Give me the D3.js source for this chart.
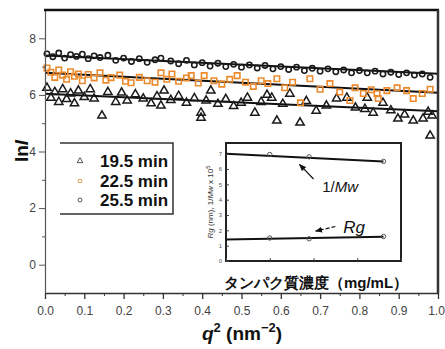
<!DOCTYPE html>
<html>
<head>
<meta charset="utf-8">
<script src="https://cdn.jsdelivr.net/npm/d3@7"></script>
<style>
  body { margin: 0; background: #fff; }
  text { font-family: "Liberation Sans", Arial, sans-serif; }
</style>
</head>
<body>
<div id="chart"></div>
<script>
// ---- data ----
const seriesNames = ['19.5 min', '22.5 min', '25.5 min'];

// 19.5 min (triangles)
const q19 = [0.005, 0.015, 0.025, 0.035, 0.045, 0.055, 0.065, 0.075, 0.085, 0.10, 0.115, 0.125, 0.145, 0.16, 0.18, 0.195, 0.209, 0.23, 0.25, 0.27, 0.285, 0.295, 0.303, 0.32, 0.34, 0.36, 0.38, 0.397, 0.397, 0.41, 0.422, 0.44, 0.46, 0.48, 0.499, 0.515, 0.534, 0.55, 0.565, 0.577, 0.59, 0.605, 0.623, 0.649, 0.665, 0.69, 0.716, 0.742, 0.768, 0.79, 0.814, 0.82, 0.835, 0.86, 0.88, 0.898, 0.915, 0.937, 0.962, 0.975, 0.98, 0.985];
const ln19 = [6.25, 5.90, 6.10, 5.75, 6.20, 5.85, 6.05, 5.70, 6.15, 5.92, 6.20, 5.87, 5.27, 6.10, 5.75, 6.08, 5.80, 6.02, 5.87, 5.70, 5.95, 5.62, 6.15, 5.82, 5.96, 5.72, 5.88, 5.37, 5.19, 5.80, 6.15, 5.68, 5.85, 5.60, 5.72, 5.90, 5.37, 5.75, 6.00, 5.90, 5.09, 5.68, 6.04, 5.02, 5.78, 5.44, 5.62, 5.87, 5.90, 5.55, 5.50, 5.90, 5.37, 5.72, 5.45, 5.16, 5.30, 5.09, 5.16, 5.40, 4.56, 5.27];

// 22.5 min (orange squares)
const q22 = [0.005, 0.015, 0.025, 0.035, 0.045, 0.055, 0.065, 0.075, 0.085, 0.095, 0.11, 0.125, 0.14, 0.155, 0.168, 0.19, 0.205, 0.219, 0.24, 0.26, 0.28, 0.295, 0.31, 0.323, 0.34, 0.36, 0.372, 0.39, 0.405, 0.43, 0.45, 0.47, 0.489, 0.51, 0.53, 0.55, 0.567, 0.59, 0.61, 0.63, 0.65, 0.674, 0.70, 0.725, 0.75, 0.776, 0.789, 0.81, 0.83, 0.845, 0.848, 0.87, 0.896, 0.92, 0.937, 0.96, 0.98];
const ln22 = [6.95, 6.80, 6.62, 6.88, 6.70, 6.55, 6.82, 6.66, 6.74, 6.50, 6.72, 6.60, 6.78, 6.52, 6.61, 6.70, 6.48, 6.43, 6.62, 6.50, 6.45, 6.78, 6.55, 6.74, 6.48, 6.60, 6.68, 6.42, 6.68, 6.50, 6.38, 6.55, 6.68, 6.45, 6.30, 6.50, 6.40, 6.57, 6.25, 6.45, 5.72, 6.57, 6.20, 6.40, 6.10, 5.80, 6.25, 6.05, 6.18, 6.04, 5.87, 6.15, 6.25, 6.15, 5.87, 6.05, 6.20];

// 25.5 min (circles)
const q25 = [0.005, 0.02, 0.035, 0.05, 0.065, 0.08, 0.095, 0.11, 0.125, 0.14, 0.16, 0.18, 0.20, 0.22, 0.24, 0.26, 0.28, 0.295, 0.32, 0.34, 0.36, 0.38, 0.40, 0.42, 0.44, 0.46, 0.48, 0.50, 0.52, 0.54, 0.56, 0.58, 0.60, 0.62, 0.64, 0.66, 0.68, 0.70, 0.72, 0.74, 0.76, 0.78, 0.80, 0.82, 0.84, 0.86, 0.88, 0.90, 0.92, 0.94, 0.96, 0.98];
const ln25 = [7.45, 7.35, 7.48, 7.30, 7.42, 7.36, 7.44, 7.28, 7.38, 7.32, 7.40, 7.22, 7.30, 7.18, 7.28, 7.15, 7.24, 7.30, 7.20, 7.10, 7.22, 7.06, 7.14, 7.02, 7.12, 7.00, 7.08, 6.98, 7.06, 6.95, 7.04, 6.92, 7.00, 6.90, 6.98, 6.86, 6.94, 6.84, 6.92, 6.82, 6.88, 6.78, 6.86, 6.78, 6.84, 6.74, 6.80, 6.72, 6.78, 6.70, 6.74, 6.62];

// linear fits: lnI at q2 = 0 and q2 = 1
const fitQ = [0, 1];
const fit19 = [6.04, 5.42];
const fit22 = [6.78, 6.08];
const fit25 = [7.39, 6.75];

// axis ticks
const xTicks = [0, 0.1, 0.2, 0.3, 0.4, 0.5, 0.6, 0.7, 0.8, 0.9, 1.0];
const xMinor = [0.05, 0.15, 0.25, 0.35, 0.45, 0.55, 0.65, 0.75, 0.85, 0.95];
const yTicks = [0, 2, 4, 6, 8];
const yMinor = [1, 3, 5, 7];

// inset: concentration (mg/mL) vs 1/Mw x10^5 and Rg (nm)
const concs = [1.0, 1.9, 3.6];
const invMw = [6.95, 6.8, 6.5];
const rg = [1.5, 1.45, 1.6];
const fitConc = [0, 3.6];
const fitInvMw = [7.0, 6.5];
const fitRg = [1.4, 1.58];
const insetYTicks = [0, 1, 2, 3, 4, 5, 6, 7];
const insetXTicks = [0, 1, 2, 3, 4];

const W = 445, H = 349;
const svg = d3.select('#chart').append('svg')
  .attr('width', W).attr('height', H);

const x = d3.scaleLinear().domain([0, 1]).range([45, 438]);
const y = d3.scaleLinear().domain([-1, 9]).range([293, 10]);

// fit lines
const line = d3.line().x(d => x(d[0])).y(d => y(d[1]));
[fit25, fit22, fit19].forEach(f => {
  svg.append('path')
    .datum(fitQ.map((q, i) => [q, f[i]]))
    .attr('fill', 'none')
    .attr('stroke', '#111')
    .attr('stroke-width', 2)
    .attr('d', line);
});

// markers
const tri = d3.symbol().type(d3.symbolTriangle).size(30);
const sq = d3.symbol().type(d3.symbolSquare).size(30);
const circ = d3.symbol().type(d3.symbolCircle).size(22);

svg.append('g').selectAll('path')
  .data(q19.map((q, i) => [q, ln19[i]]))
  .join('path')
  .attr('transform', d => `translate(${x(d[0])},${y(d[1])})`)
  .attr('d', tri)
  .attr('fill', 'none')
  .attr('stroke', '#1a1a1a')
  .attr('stroke-width', 1.5);

svg.append('g').selectAll('path')
  .data(q22.map((q, i) => [q, ln22[i]]))
  .join('path')
  .attr('transform', d => `translate(${x(d[0])},${y(d[1])})`)
  .attr('d', sq)
  .attr('fill', 'none')
  .attr('stroke', '#ec8a2e')
  .attr('stroke-width', 1.6);

svg.append('g').selectAll('path')
  .data(q25.map((q, i) => [q, ln25[i]]))
  .join('path')
  .attr('transform', d => `translate(${x(d[0])},${y(d[1])})`)
  .attr('d', circ)
  .attr('fill', 'none')
  .attr('stroke', '#1a1a1a')
  .attr('stroke-width', 1.6);

// axes
const xAxis = svg.append('g')
  .attr('transform', 'translate(0,293)')
  .call(d3.axisBottom(x).tickValues(xTicks).tickFormat(d3.format('.1f')).tickSize(6).tickSizeOuter(0));
xAxis.select('.domain').attr('stroke', '#333').attr('stroke-width', 1.5);
xAxis.selectAll('.tick line').attr('stroke', '#333').attr('stroke-width', 1.3);
xAxis.selectAll('text').attr('font-size', 12).attr('fill', '#444').attr('dy', '1.05em');
xAxis.selectAll('text').filter(d => d === 1).attr('dx', -2);
svg.append('g')
  .attr('transform', 'translate(0,293)')
  .call(d3.axisBottom(x).tickValues(xMinor).tickFormat('').tickSize(3))
  .call(g => g.select('.domain').remove())
  .selectAll('.tick line').attr('stroke', '#333');

const yAxis = svg.append('g')
  .attr('transform', 'translate(45,0)')
  .call(d3.axisLeft(y).tickValues(yTicks).tickSize(6).tickSizeOuter(0));
yAxis.select('.domain').attr('stroke', '#555').attr('stroke-width', 1.2);
yAxis.selectAll('.tick line').attr('stroke', '#555');
yAxis.selectAll('text').attr('font-size', 12).attr('fill', '#444');
svg.append('g')
  .attr('transform', 'translate(45,0)')
  .call(d3.axisLeft(y).tickValues(yMinor).tickFormat('').tickSize(3))
  .call(g => g.select('.domain').remove())
  .selectAll('.tick line').attr('stroke', '#555');

// top and right frame
svg.append('line').attr('x1', 44).attr('x2', 439).attr('y1', 10).attr('y2', 10)
  .attr('stroke', '#111').attr('stroke-width', 2.5);
svg.append('line').attr('x1', 438).attr('x2', 438).attr('y1', 10).attr('y2', 293)
  .attr('stroke', '#333').attr('stroke-width', 2.5);

// axis titles
const xt = svg.append('text')
  .attr('x', 242).attr('y', 340)
  .attr('text-anchor', 'middle')
  .attr('font-size', 19).attr('font-weight', 'bold').attr('fill', '#111');
xt.append('tspan').attr('font-style', 'italic').text('q');
xt.append('tspan').attr('font-size', 13).attr('dy', -8).text('2');
xt.append('tspan').attr('dy', 8).text(' (nm');
xt.append('tspan').attr('font-size', 13).attr('dy', -8).text('\u22122');
xt.append('tspan').attr('dy', 8).text(')');

const yt = svg.append('text')
  .attr('transform', 'translate(28,151) rotate(-90)')
  .attr('text-anchor', 'middle')
  .attr('font-size', 19).attr('font-weight', 'bold').attr('fill', '#111');
yt.append('tspan').text('ln');
yt.append('tspan').attr('font-style', 'italic').text('I');

// legend
const lg = svg.append('g');
lg.append('path').attr('d', 'M60,143 H173 V214 H60')
  .attr('fill', 'none').attr('stroke', '#333').attr('stroke-width', 1.5);
const lgMarks = [
  { sym: d3.symbol().type(d3.symbolTriangle).size(14), color: '#555' },
  { sym: d3.symbol().type(d3.symbolSquare).size(10), color: '#d9a560' },
  { sym: d3.symbol().type(d3.symbolCircle).size(12), color: '#555' }
];
const lgBase = [167, 187, 206];
seriesNames.forEach((name, i) => {
  lg.append('path')
    .attr('transform', `translate(80,${lgBase[i] - 6})`)
    .attr('d', lgMarks[i].sym)
    .attr('fill', 'none').attr('stroke', lgMarks[i].color).attr('stroke-width', 1);
  lg.append('text')
    .attr('x', 100).attr('y', lgBase[i])
    .attr('font-size', 17).attr('font-weight', 'bold').attr('fill', '#111')
    .text(name);
});

// inset
const ix = d3.scaleLinear().domain([0, 4]).range([226, 401]);
const iy = d3.scaleLinear().domain([0, 7.7]).range([261, 143]);
const inset = svg.append('g');
inset.append('rect')
  .attr('x', 226).attr('y', 143).attr('width', 175).attr('height', 118)
  .attr('fill', '#fff').attr('stroke', '#222').attr('stroke-width', 2);

const iline = d3.line().x(d => ix(d[0])).y(d => iy(d[1]));
[fitInvMw, fitRg].forEach(f => {
  inset.append('path')
    .datum(fitConc.map((c, i) => [c, f[i]]))
    .attr('fill', 'none').attr('stroke', '#111').attr('stroke-width', 2)
    .attr('d', iline);
});
[invMw, rg].forEach(v => {
  inset.append('g').selectAll('circle')
    .data(concs.map((c, i) => [c, v[i]]))
    .join('circle')
    .attr('cx', d => ix(d[0])).attr('cy', d => iy(d[1]))
    .attr('r', 2.2)
    .attr('fill', 'none').attr('stroke', '#555').attr('stroke-width', 1);
});

const iya = inset.append('g')
  .attr('transform', 'translate(226,0)')
  .call(d3.axisLeft(iy).tickValues(insetYTicks).tickSize(-3).tickPadding(4));
iya.select('.domain').remove();
iya.selectAll('.tick line').attr('stroke', '#444');
iya.selectAll('text').attr('font-size', 6).attr('fill', '#555');

const ixa = inset.append('g')
  .attr('transform', 'translate(0,261)')
  .call(d3.axisBottom(ix).tickValues(insetXTicks).tickSize(-3).tickFormat(''));
ixa.select('.domain').remove();
ixa.selectAll('.tick line').attr('stroke', '#444');

const iyt = inset.append('text')
  .attr('transform', 'translate(213,202) rotate(-90)')
  .attr('text-anchor', 'middle')
  .attr('font-size', 8).attr('fill', '#333');
iyt.append('tspan').attr('font-style', 'italic').text('Rg');
iyt.append('tspan').text(' (nm), 1/');
iyt.append('tspan').attr('font-style', 'italic').text('Mw');
iyt.append('tspan').text(' x 10');
iyt.append('tspan').attr('font-size', 6).attr('dy', -3).text('5');

inset.append('text')
  .attr('x', 316).attr('y', 288)
  .attr('text-anchor', 'middle')
  .attr('font-family', '"Noto Sans CJK JP", sans-serif')
  .attr('font-size', 15).attr('font-weight', 'bold').attr('fill', '#111')
  .text('タンパク質濃度（mg/mL）');

// inset annotations
svg.append('defs').append('marker')
  .attr('id', 'ah').attr('viewBox', '0 0 10 10')
  .attr('refX', 9).attr('refY', 5)
  .attr('markerWidth', 6).attr('markerHeight', 6)
  .attr('orient', 'auto')
  .append('path').attr('d', 'M0,1 L10,5 L0,9 Z').attr('fill', '#111');

inset.append('line')
  .attr('x1', ix(2.0)).attr('y1', iy(5.35))
  .attr('x2', ix(1.68)).attr('y2', iy(6.3))
  .attr('stroke', '#111').attr('stroke-width', 1.2)
  .attr('marker-end', 'url(#ah)');
const mwl = inset.append('text')
  .attr('x', ix(2.2)).attr('y', iy(4.5))
  .attr('font-size', 15).attr('fill', '#111');
mwl.append('tspan').text('1/');
mwl.append('tspan').attr('font-style', 'italic').text('Mw');

inset.append('line')
  .attr('x1', ix(2.5)).attr('y1', iy(2.25))
  .attr('x2', ix(2.05)).attr('y2', iy(1.95))
  .attr('stroke', '#111').attr('stroke-width', 1.2)
  .attr('stroke-dasharray', '4,2')
  .attr('marker-end', 'url(#ah)');
inset.append('text')
  .attr('x', ix(2.68)).attr('y', iy(1.85))
  .attr('font-size', 17).attr('font-style', 'italic').attr('fill', '#111')
  .text('Rg');
</script>
</body>
</html>
